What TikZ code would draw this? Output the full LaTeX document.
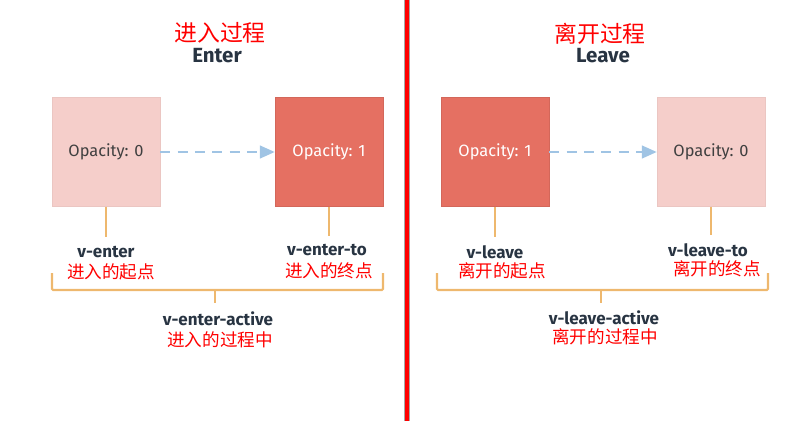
\documentclass[tikz,border=0pt]{standalone}
\usepackage{tikz}
\usepackage{xcolor}
\usepackage{fontspec}
\usetikzlibrary{arrows.meta}
\setmainfont{Fira Sans}
\newfontfamily\cjk{Noto Sans CJK SC}
\definecolor{vueDark}{RGB}{229, 112, 98}
\definecolor{vueLight}{RGB}{245, 206, 202}
\definecolor{vueBlue}{RGB}{160, 196, 228}
\definecolor{vueOrange}{RGB}{238, 184, 110}
\definecolor{vueText}{RGB}{40, 52, 66}

\begin{document}
\begin{tikzpicture}[x=0.03cm, y=-0.03cm]
    \tikzstyle{title} = [text=red, font=\cjk\fontsize{19.5}{19.5}\selectfont]
    \tikzstyle{head} = [text=vueText, font=\bfseries\fontsize{17.5}{17.5}\selectfont]
    \tikzstyle{box} = [rectangle, minimum width=3.24cm, minimum height=3.27cm, font=\fontsize{14}{14}\selectfont]
    \tikzstyle{darkbox} = [box, fill=vueDark, draw=vueDark!92!black, text=white]
    \tikzstyle{lightbox} = [box, fill=vueLight, draw=vueLight!96!black, text=black!75]
    \tikzstyle{flow} = [-{Triangle[length=0.45cm, width=0.38cm]}, vueBlue, line width=2.2pt, dash pattern=on 0.3cm off 0.22cm]
    \tikzstyle{tick} = [vueOrange, line width=1.8pt]
    \tikzstyle{cls} = [text=vueText, inner sep=1pt, font=\bfseries\fontsize{14.5}{14.5}\selectfont]
    \tikzstyle{cn} = [text=red, inner sep=0.5pt, font=\cjk\fontsize{15}{15}\selectfont]

    \useasboundingbox (0,0) rectangle (807,421);

    \draw[black!35, line width=5pt] (407,0) -- (407,421);
    \draw[red, line width=2.6pt] (407,0) -- (407,421);

    \node[title] (entitle) at (220,33) {进入过程};
    \node[head] (enhead) at (217,56) {Enter};
    \node[lightbox] (ein) at (106,152) {Opacity: 0};
    \node[darkbox] (eout) at (329,152) {Opacity: 1};
    \draw[flow] (ein) -- (eout);

    \coordinate (et1) at (106,237);
    \coordinate (et2) at (329,236);
    \draw[tick] (ein.south) -- (et1);
    \draw[tick] (eout.south) -- (et2);
    \node[cls] (enterl) at (106,252) {v-enter};
    \node[cn] (enterz) at (111,272) {进入的起点};
    \node[cls] (entotl) at (327,250) {v-enter-to};
    \node[cn] (entotz) at (329,271) {进入的终点};

    \coordinate (eb1) at (52,273);
    \coordinate (eb2) at (383,273);
    \coordinate (ebm) at (215,290);
    \draw[tick, rounded corners=1pt] (eb1) -- ++(0,17) -| (eb2);
    \draw[tick] (ebm) -- ++(0,13);
    \node[cls] (eactl) at (218,319) {v-enter-active};
    \node[cn] (eactz) at (220,340) {进入的过程中};

    \node[title] (lvtitle) at (600,34) {离开过程};
    \node[head] (lvhead) at (603,56) {Leave};
    \node[darkbox] (lin) at (495,152) {Opacity: 1};
    \node[lightbox] (lout) at (711,152) {Opacity: 0};
    \draw[flow] (lin) -- (lout);

    \coordinate (lt1) at (495,237);
    \coordinate (lt2) at (711,235);
    \draw[tick] (lin.south) -- (lt1);
    \draw[tick] (lout.south) -- (lt2);
    \node[cls] (leavel) at (495,252) {v-leave};
    \node[cn] (leavez) at (502,271) {离开的起点};
    \node[cls] (lvtol) at (708,250) {v-leave-to};
    \node[cn] (lvtoz) at (717,269) {离开的终点};

    \coordinate (lb1) at (437,273);
    \coordinate (lb2) at (768,273);
    \coordinate (lbm) at (601,290);
    \draw[tick, rounded corners=1pt] (lb1) -- ++(0,17) -| (lb2);
    \draw[tick] (lbm) -- ++(0,13);
    \node[cls] (lactl) at (604,318) {v-leave-active};
    \node[cn] (lactz) at (605,337) {离开的过程中};
\end{tikzpicture}
\end{document}
